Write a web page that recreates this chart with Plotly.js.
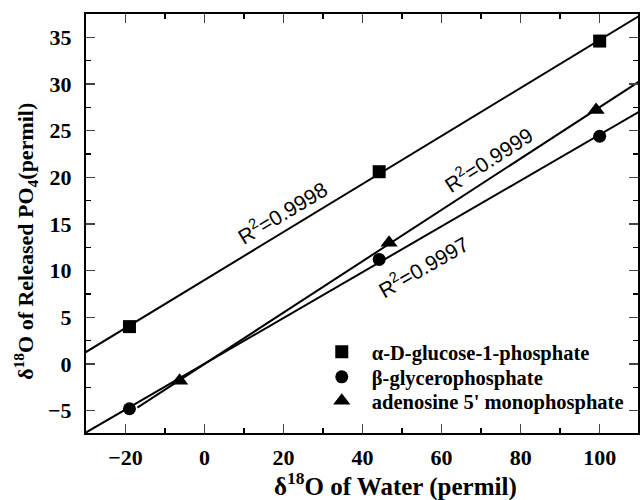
<!DOCTYPE html>
<html>
<head>
<meta charset="utf-8">
<script src="https://cdn.plot.ly/plotly-3.0.1.min.js"></script>
<style>html,body{margin:0;padding:0;background:#fff;}#chart{width:641px;height:500px;}</style>
</head>
<body>
<div id="chart"></div>
<script>
// Data
var seriesNames = ["\u03b1-D-glucose-1-phosphate", "\u03b2-glycerophosphate", "adenosine 5' monophosphate"];
var glucoseX = [-19, 44.2, 100];
var glucoseY = [4.0, 20.6, 34.6];
var glyceroX = [-19, 44.2, 100];
var glyceroY = [-4.8, 11.2, 24.4];
var ampX = [-6.3, 46.7, 99.1];
var ampY = [-1.8, 13.0, 27.2];
var r2Labels = ["R<sup>2</sup>=0.9998", "R<sup>2</sup>=0.9997", "R<sup>2</sup>=0.9999"];
// x extent of each fitted line
var fitStart = [-31, -31, -17];
var fitEnd = [111, 111, 111];
var xTicks = [-20, 0, 20, 40, 60, 80, 100];
var yTicks = [-5, 0, 5, 10, 15, 20, 25, 30, 35];

function fit(xs, ys) {
  var n = xs.length, mx = 0, my = 0;
  for (var i = 0; i < n; i++) { mx += xs[i]; my += ys[i]; }
  mx /= n; my /= n;
  var sxx = 0, sxy = 0;
  for (var j = 0; j < n; j++) { sxx += (xs[j]-mx)*(xs[j]-mx); sxy += (xs[j]-mx)*(ys[j]-my); }
  var b = sxy / sxx;
  return {slope: b, icpt: my - b*mx};
}

var legendIds = ['legend', 'legend2', 'legend3'];
var sets = [[glucoseX, glucoseY, 'square', 13], [glyceroX, glyceroY, 'circle', 13], [ampX, ampY, 'triangle-up', 15]];
var traces = [];
sets.forEach(function(s, k) {
  var f = fit(s[0], s[1]);
  var xs = [fitStart[k], fitEnd[k]];
  traces.push({x: xs, y: xs.map(function(v){return f.icpt + f.slope*v;}), mode: 'lines',
    line: {color: '#000', width: 2}, showlegend: false, hoverinfo: 'skip'});
});
sets.forEach(function(s, k) {
  traces.push({x: s[0], y: s[1], mode: 'markers', name: seriesNames[k], legend: legendIds[k],
    marker: {symbol: s[2], size: s[3], color: '#000'}});
});

var SERIF = 'Liberation Serif';
var SANS = 'Liberation Sans';
function tf() { return {family: SERIF, size: 22, color: '#000', weight: 'bold'}; }
function leg(yc) {
  return {x: 0.409, y: yc, xanchor: 'left', yanchor: 'middle', bgcolor: 'rgba(0,0,0,0)',
    itemwidth: 50, font: {family: SERIF, size: 20.5, color: '#000', weight: 'bold'}};
}
var layout = {
  width: 641, height: 500,
  font: {family: SERIF, color: '#000', weight: 'bold'},
  margin: {l: 86, r: 3, t: 14, b: 67},
  paper_bgcolor: '#fff', plot_bgcolor: '#fff',
  showlegend: true,
  legend: leg(0.1933),
  legend2: leg(0.1337),
  legend3: leg(0.0764),
  xaxis: {range: [-30, 109.7], tickvals: xTicks, ticks: 'inside', ticklen: 9, tickwidth: 1.5,
    showline: true, linewidth: 2, linecolor: '#000', mirror: 'ticks', showgrid: false, zeroline: false,
    tickfont: tf(), ticklabelstandoff: 4,
    minor: {dtick: 10, tick0: 0, ticks: 'inside', ticklen: 5, tickwidth: 1.5, tickcolor: '#000', showgrid: false}},
  yaxis: {range: [-7.4, 37.5], tickvals: yTicks, ticks: 'inside', ticklen: 9, tickwidth: 1.5,
    showline: true, linewidth: 2, linecolor: '#000', mirror: 'ticks', showgrid: false, zeroline: false,
    tickfont: tf(), ticklabelstandoff: 8,
    minor: {dtick: 2.5, tick0: 0, ticks: 'inside', ticklen: 5, tickwidth: 1.5, tickcolor: '#000', showgrid: false}},
  annotations: [
    {text: r2Labels[0], x: 19.6, y: 16.3, xref: 'x', yref: 'y', showarrow: false, textangle: -31,
      font: {family: SANS, size: 21, color: '#000', weight: 'normal'}},
    {text: r2Labels[1], x: 55.3, y: 10.5, xref: 'x', yref: 'y', showarrow: false, textangle: -30,
      font: {family: SANS, size: 21, color: '#000', weight: 'normal'}},
    {text: r2Labels[2], x: 71.7, y: 22.0, xref: 'x', yref: 'y', showarrow: false, textangle: -33,
      font: {family: SANS, size: 21, color: '#000', weight: 'normal'}},
    {text: '\u03b4<sup>18</sup>O of Water (permil)', xref: 'paper', yref: 'paper', x: 0.56, y: -0.124,
      xanchor: 'center', yanchor: 'middle', showarrow: false,
      font: {family: SERIF, size: 25, color: '#000', weight: 'bold'}},
    {text: '\u03b4<sup>18</sup>O of Released PO<sub>4</sub>(permil)', xref: 'paper', yref: 'paper', x: -0.11, y: 0.457,
      xanchor: 'center', yanchor: 'middle', showarrow: false, textangle: -90,
      font: {family: SERIF, size: 22, color: '#000', weight: 'bold'}}
  ]
};
Plotly.newPlot('chart', traces, layout, {staticPlot: true, displayModeBar: false});
</script>
</body>
</html>
